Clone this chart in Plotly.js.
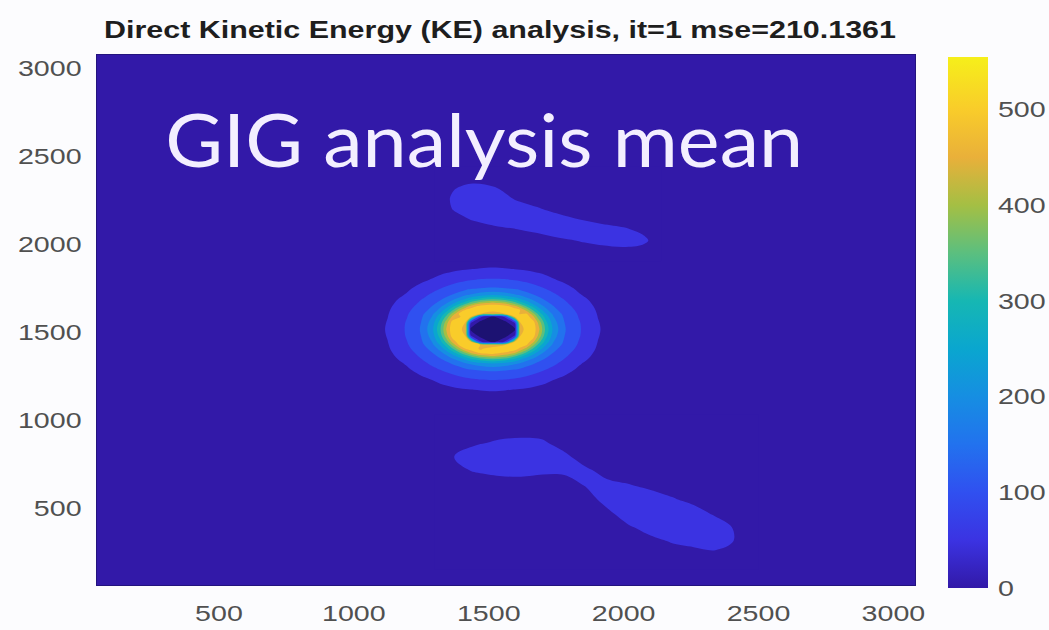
<!DOCTYPE html>
<html>
<head>
<meta charset="utf-8">
<script src="https://cdn.plot.ly/plotly-3.0.1.min.js"></script>
<style>
  html, body { margin: 0; padding: 0; background: #fcfcfe; }
  #chart { width: 1049px; height: 630px; }
</style>
</head>
<body>
<div id="chart"></div>
<script>
// ---------------- DATA ----------------
// Whole field around the central ring (non-uniform grid, data units); far field is weak (~10)
const ringX = [0, 1055, 1125, 1195, 1250, 1290, 1320, 1343, 1365, 1390, 1415, 1433, 1470, 1515,
               1560, 1597, 1615, 1640, 1665, 1687, 1710, 1740, 1780, 1835, 1905, 1975, 3200];
const ringY = [0, 1110, 1172, 1233, 1282, 1317, 1343, 1364, 1383, 1405, 1427, 1443, 1475, 1515,
               1555, 1587, 1603, 1625, 1647, 1666, 1687, 1713, 1748, 1797, 1858, 1920, 3200];
const ringZ = [
  [10,10,10,10,10,10,10,10,10,10,10,10,10,10,10,10,10,10,10,10,10,10,10,10,10,10,10],
  [10,10,10,13,14,16,18,19,20,21,22,23,23,24,23,23,22,21,20,19,18,16,14,13,10,10,10],
  [10,10,13,17,22,25,31,36,40,44,47,49,52,54,52,49,47,44,40,36,31,25,22,17,13,10,10],
  [10,13,17,25,41,53,65,73,80,88,94,97,103,105,103,97,94,88,80,73,65,53,41,25,17,13,10],
  [10,14,22,41,65,85,98,108,117,127,137,143,151,155,151,143,137,127,117,108,98,85,65,41,22,14,10],
  [10,16,25,53,85,106,122,137,150,165,188,201,222,237,222,201,188,165,150,137,122,106,85,53,25,16,10],
  [10,18,31,65,98,122,144,160,188,217,256,282,320,343,320,282,256,217,188,160,144,122,98,65,31,18,10],
  [10,19,36,73,108,137,160,194,226,278,325,364,426,455,426,364,325,278,226,194,160,137,108,73,36,19,10],
  [10,20,40,80,117,150,188,226,280,342,414,460,519,530,496,460,414,342,280,226,188,150,117,80,40,20,10],
  [10,21,44,88,127,165,217,278,342,431,505,530,492,532,542,530,488,431,342,278,217,165,127,88,44,21,10],
  [10,22,47,94,137,188,256,325,414,505,539,538,497,455,497,538,539,505,414,325,256,188,137,94,47,22,10],
  [10,23,49,97,143,201,282,364,460,530,538,521,60,-10,60,521,538,530,460,364,282,201,143,97,49,23,10],
  [10,23,52,103,151,222,320,426,519,542,497,60,-16,-22,-16,60,497,542,519,426,320,222,151,103,52,23,10],
  [10,24,54,105,155,237,343,455,530,532,455,-10,-22,-25,-22,-10,455,532,530,455,343,237,155,105,54,24,10],
  [10,23,52,103,151,222,320,426,519,542,497,60,-16,-22,-16,60,497,542,519,426,320,222,151,103,52,23,10],
  [10,23,49,97,143,201,282,364,460,490,538,521,60,-10,60,521,538,530,460,364,282,201,143,97,49,23,10],
  [10,22,47,94,137,188,256,325,414,505,539,538,497,455,497,538,495,505,414,325,256,188,137,94,47,22,10],
  [10,21,44,88,127,165,217,278,342,431,505,530,542,532,542,530,505,431,342,278,217,165,127,88,44,21,10],
  [10,20,40,80,117,150,188,226,280,342,414,460,519,530,519,460,414,342,280,226,188,150,117,80,40,20,10],
  [10,19,36,73,108,137,160,194,226,278,325,364,426,455,426,364,325,278,226,194,160,137,108,73,36,19,10],
  [10,18,31,65,98,122,144,160,188,217,256,282,320,343,320,282,256,217,188,160,144,122,98,65,31,18,10],
  [10,16,25,53,85,106,122,137,150,165,188,201,222,237,222,201,188,165,150,137,122,106,85,53,25,16,10],
  [10,14,22,41,65,85,98,108,117,127,137,143,151,155,151,143,137,127,117,108,98,85,65,41,22,14,10],
  [10,13,17,25,41,53,65,73,80,88,94,97,103,105,103,97,94,88,80,73,65,53,41,25,17,13,10],
  [10,10,13,17,22,25,31,36,40,44,47,49,52,54,52,49,47,44,40,36,31,25,22,17,13,10,10],
  [10,10,10,13,14,16,18,19,20,21,22,23,23,24,23,23,22,21,20,19,18,16,14,13,10,10,10],
  [10,10,10,10,10,10,10,10,10,10,10,10,10,10,10,10,10,10,10,10,10,10,10,10,10,10,10]
];

// Upper weak patch
const topX = [1300, 1370, 1440, 1520, 1600, 1680, 1760, 1840, 1920, 2000, 2070, 2140];
const topY = [1900, 1960, 2020, 2080, 2140, 2200, 2260, 2320, 2380, 2440];
const topZ = [
  [15, 15, 15, 15, 16, 18, 20, 22, 25, 27, 25, 20],
  [15, 18, 18, 20, 22, 24, 30, 34, 38, 40, 38, 25],
  [18, 22, 25, 28, 33, 36, 44, 52, 60, 66, 58, 32],
  [22, 30, 35, 42, 48, 56, 68, 72, 63, 55, 44, 28],
  [26, 40, 52, 62, 70, 72, 62, 49, 40, 35, 30, 22],
  [30, 52, 70, 75, 68, 53, 38, 32, 28, 24, 22, 18],
  [30, 55, 72, 70, 46, 34, 26, 24, 20, 18, 17, 15],
  [26, 48, 58, 52, 30, 24, 20, 18, 16, 15, 15, 15],
  [20, 32, 38, 34, 22, 18, 16, 15, 15, 15, 15, 15],
  [15, 20, 22, 20, 16, 15, 15, 15, 15, 15, 15, 15]
];

// Lower weak patch
const botX = [1300, 1380, 1460, 1540, 1620, 1700, 1780, 1860, 1940, 2020, 2100, 2180, 2260, 2340, 2420, 2500];
const botY = [150, 230, 310, 390, 470, 550, 630, 710, 790, 870, 950, 1030];
const botZ = [
  [15, 15, 15, 15, 15, 15, 16, 17, 18, 20, 24, 28, 30, 32, 30, 22],
  [15, 15, 15, 15, 15, 16, 18, 20, 22, 26, 32, 38, 40, 44, 40, 26],
  [15, 16, 16, 16, 17, 18, 20, 24, 26, 34, 43, 52, 57, 60, 48, 30],
  [16, 18, 18, 18, 19, 21, 24, 28, 32, 47, 60, 69, 75, 63, 46, 28],
  [18, 22, 20, 21, 23, 25, 28, 32, 44, 65, 78, 69, 60, 46, 36, 24],
  [22, 28, 24, 26, 28, 30, 30, 38, 61, 68, 61, 52, 43, 34, 28, 20],
  [26, 36, 36, 39, 40, 38, 38, 52, 57, 51, 44, 38, 32, 27, 22, 18],
  [30, 46, 52, 56, 57, 54, 55, 56, 40, 38, 33, 30, 26, 22, 18, 16],
  [32, 52, 68, 74, 76, 74, 57, 36, 30, 28, 26, 24, 20, 18, 16, 15],
  [28, 44, 47, 54, 56, 54, 38, 28, 24, 22, 20, 19, 17, 16, 15, 15],
  [22, 32, 31, 37, 39, 37, 28, 22, 19, 18, 16, 16, 15, 15, 15, 15],
  [18, 22, 22, 24, 25, 24, 20, 18, 16, 15, 15, 15, 15, 15, 15, 15]
];

const xTicks = [500, 1000, 1500, 2000, 2500, 3000];
const yTicks = [500, 1000, 1500, 2000, 2500, 3000];
const cbTicks = [0, 100, 200, 300, 400, 500];
const titleText = 'Direct Kinetic Energy (KE) analysis, it=1 mse=210.1361';
const overlayText = 'GIG analysis mean';

// ---------------- STYLE ----------------
const ZMAX = 555;
const STOPS = [
  [0, '#3219a8'], [50, '#3b33e2'], [100, '#3050f0'], [150, '#2272ee'],
  [200, '#168ee2'], [250, '#0aa6cf'], [300, '#16b7b3'], [350, '#5bbf7f'],
  [400, '#a4bf44'], [450, '#e9b03a'], [500, '#f9cc2a'], [555, '#f6ef1a']
];
const HOLE = '#1c1272';
const contScale = STOPS.map(s => [s[0] / ZMAX, s[1]]);
const colorAt = v => STOPS.find(s => s[0] === v)[1];
// band colours (MATLAB contourf colours each band with its lower level)
const ringScale = [[0, HOLE]];
for (let k = 1; k <= 11; k++) ringScale.push([k / 11, colorAt(50 * (k - 1))]);
const blobScale = [];
for (let k = 0; k <= 10; k++) blobScale.push([k / 10, colorAt(50 * k)]);

const W = 1049, H = 630;
const L = 97, R = 915, T = 55, B = 585;
const tickFont = { family: 'Liberation Sans, Arial, sans-serif', size: 22, color: '#505050' };

function contourTrace(x, y, z, start, scale) {
  return {
    type: 'contour', x: x, y: y, z: z,
    autocontour: false,
    contours: { start: start, end: 500, size: 50, coloring: 'fill', showlines: false },
    line: { width: 0 },
    colorscale: scale, showscale: false, hoverinfo: 'skip'
  };
}

const traces = [
  {
    // invisible carrier of the continuous colour bar
    type: 'heatmap', x: ringX, y: ringY, z: ringZ, opacity: 0,
    zmin: 0, zmax: ZMAX, colorscale: contScale, hoverinfo: 'skip',
    showscale: true,
    colorbar: {
      x: (948 - L) / (R - L), xanchor: 'left', xpad: 0,
      y: (B - (57 + 588) / 2) / (B - T), yanchor: 'middle', ypad: 0,
      thickness: 40, thicknessmode: 'pixels',
      len: 531, lenmode: 'pixels',
      outlinewidth: 0,
      tickmode: 'array', tickvals: cbTicks,
      ticks: 'outside', ticklen: 6, tickcolor: 'rgba(0,0,0,0)',
      tickfont: tickFont
    }
  },
  contourTrace(ringX, ringY, ringZ, 0, ringScale),
  contourTrace(topX, topY, topZ, 50, blobScale),
  contourTrace(botX, botY, botZ, 50, blobScale)
];

const axisCommon = {
  showgrid: false, zeroline: false,
  showline: true, linecolor: '#23137e', linewidth: 1, mirror: true,
  ticks: 'outside', tickcolor: 'rgba(0,0,0,0)',
  tickmode: 'array', tickfont: tickFont, fixedrange: true
};

const layout = {
  width: W, height: H,
  margin: { l: L, r: W - R, t: T, b: H - B, pad: 0 },
  paper_bgcolor: '#fcfcfe',
  plot_bgcolor: colorAt(0),
  showlegend: false,
  title: {
    text: titleText,
    xref: 'paper', x: (500 - L) / (R - L), xanchor: 'center',
    yref: 'container', y: 1 - 30 / H, yanchor: 'middle',
    font: { family: 'Liberation Sans, Arial, sans-serif', size: 23, weight: 'bold', color: '#1e1e1e' }
  },
  xaxis: Object.assign({}, axisCommon, { range: [48, 3080], tickvals: xTicks, ticklen: 9 }),
  yaxis: Object.assign({}, axisCommon, { range: [62, 3074], tickvals: yTicks, ticklen: 10 }),
  annotations: [{
    text: overlayText, showarrow: false,
    xref: 'paper', yref: 'paper',
    x: (484 - L) / (R - L), xanchor: 'center',
    y: (B - 138) / (B - T), yanchor: 'middle',
    font: { family: 'Lato, Carlito, sans-serif', size: 74, color: '#f3efff' }
  }]
};

Plotly.newPlot('chart', traces, layout, { displayModeBar: false, responsive: false }).then(gd => {
  // the source frame is horizontally stretched: widen the figure texts the same way
  const stretch = (sel, f, target) => {
    gd.querySelectorAll(sel).forEach(t => {
      const w = t.getComputedTextLength();
      if (!w) return;
      t.setAttribute('textLength', target ? target : w * f);
      t.setAttribute('lengthAdjust', 'spacingAndGlyphs');
    });
  };
  stretch('.xtick text', 1.3);
  stretch('.ytick text', 1.3);
  stretch('.colorbar text', 1.3);
  stretch('.gtitle', 0, 792);
  stretch('.annotation-text', 0, 638);
});
</script>
</body>
</html>
